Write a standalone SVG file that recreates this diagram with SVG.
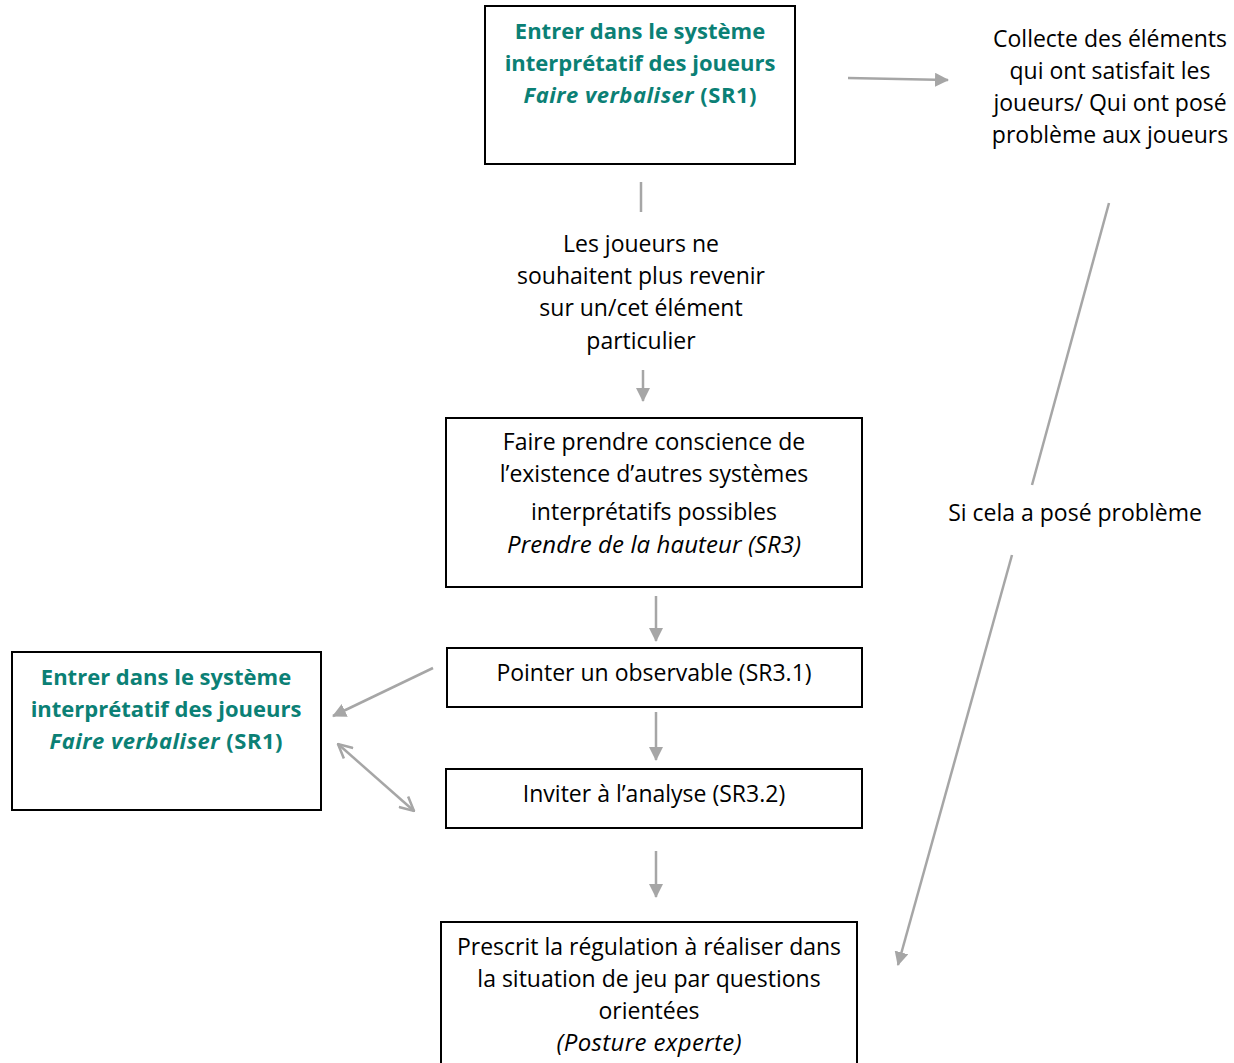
<svg xmlns="http://www.w3.org/2000/svg" width="1234" height="1063" viewBox="0 0 1234 1063">
<defs>
<style>
.box{fill:#fff;stroke:#000;stroke-width:2}
.t{font-family:"Open Sans",Lato,"Liberation Sans",sans-serif;font-size:23px;fill:#000;text-anchor:middle}
.g{fill:#0b8075;font-weight:bold;font-size:22px}
.i{font-style:italic}
.ib{font-style:italic;font-size:24px}
.c{stroke:#a6a6a6;stroke-width:2.5;fill:none}
</style>
<marker id="ah" viewBox="0 0 14 14" refX="13" refY="7" markerWidth="14" markerHeight="14" markerUnits="userSpaceOnUse" orient="auto">
<path d="M0,0 L14,7 L0,14 z" fill="#a6a6a6"/>
</marker>
<marker id="open" viewBox="0 0 16 16" refX="15" refY="8" markerWidth="16" markerHeight="16" markerUnits="userSpaceOnUse" orient="auto-start-reverse">
<path d="M1,1 L15,8 L1,15" fill="none" stroke="#a6a6a6" stroke-width="2.5"/>
</marker>
</defs>
<rect width="1234" height="1063" fill="#fff"/>

<g id="connectors">
<line class="c" x1="848" y1="78" x2="948" y2="80" marker-end="url(#ah)"/>
<line class="c" x1="641" y1="182" x2="641" y2="212"/>
<line class="c" x1="643" y1="370" x2="643" y2="401" marker-end="url(#ah)"/>
<line class="c" x1="656" y1="596" x2="656" y2="641" marker-end="url(#ah)"/>
<line class="c" x1="656" y1="712" x2="656" y2="760" marker-end="url(#ah)"/>
<line class="c" x1="656" y1="851" x2="656" y2="897" marker-end="url(#ah)"/>
<line class="c" x1="433" y1="668" x2="333" y2="716" marker-end="url(#ah)"/>
<line class="c" x1="338" y1="744" x2="414" y2="811" marker-start="url(#open)" marker-end="url(#open)"/>
<line class="c" x1="1109" y1="203" x2="1032" y2="485"/>
<line class="c" x1="1012" y1="555" x2="898" y2="965" marker-end="url(#ah)"/>
</g>

<g id="node-sr1-top">
<rect class="box" x="485" y="6" width="310" height="158"/>
<text class="t g" x="640" y="39">Entrer dans le système</text>
<text class="t g" x="640" y="71">interprétatif des joueurs</text>
<text class="t g" x="640" y="103" textLength="233"><tspan class="i">Faire verbaliser</tspan> (SR1)</text>
</g>

<g id="node-collecte">
<text class="t" x="1110" y="47">Collecte des éléments</text>
<text class="t" x="1110" y="79">qui ont satisfait les</text>
<text class="t" x="1110" y="111">joueurs/ Qui ont posé</text>
<text class="t" x="1110" y="143">problème aux joueurs</text>
</g>

<g id="label-joueurs">
<text class="t" x="641" y="252">Les joueurs ne</text>
<text class="t" x="641" y="284">souhaitent plus revenir</text>
<text class="t" x="641" y="316">sur un/cet élément</text>
<text class="t" x="641" y="349">particulier</text>
</g>

<g id="node-sr3">
<rect class="box" x="446" y="418" width="416" height="169"/>
<text class="t" x="654" y="450">Faire prendre conscience de</text>
<text class="t" x="654" y="482">l’existence d’autres systèmes</text>
<text class="t" x="654" y="520">interprétatifs possibles</text>
<text class="t ib" x="654" y="553" textLength="294">Prendre de la hauteur (SR3)</text>
</g>

<g id="node-sr31">
<rect class="box" x="447" y="648" width="415" height="59"/>
<text class="t" x="654" y="681">Pointer un observable (SR3.1)</text>
</g>

<g id="node-sr32">
<rect class="box" x="446" y="769" width="416" height="59"/>
<text class="t" x="654" y="802">Inviter à l’analyse (SR3.2)</text>
</g>

<g id="node-prescrit">
<rect class="box" x="441" y="922" width="416" height="150"/>
<text class="t" x="649" y="955">Prescrit la régulation à réaliser dans</text>
<text class="t" x="649" y="987">la situation de jeu par questions</text>
<text class="t" x="649" y="1019">orientées</text>
<text class="t ib" x="649" y="1051" textLength="185">(Posture experte)</text>
</g>

<g id="node-sr1-left">
<rect class="box" x="12" y="652" width="309" height="158"/>
<text class="t g" x="166" y="685">Entrer dans le système</text>
<text class="t g" x="166" y="717">interprétatif des joueurs</text>
<text class="t g" x="166" y="749" textLength="233"><tspan class="i">Faire verbaliser</tspan> (SR1)</text>
</g>

<g id="label-probleme">
<text class="t" x="1075" y="521">Si cela a posé problème</text>
</g>
</svg>
